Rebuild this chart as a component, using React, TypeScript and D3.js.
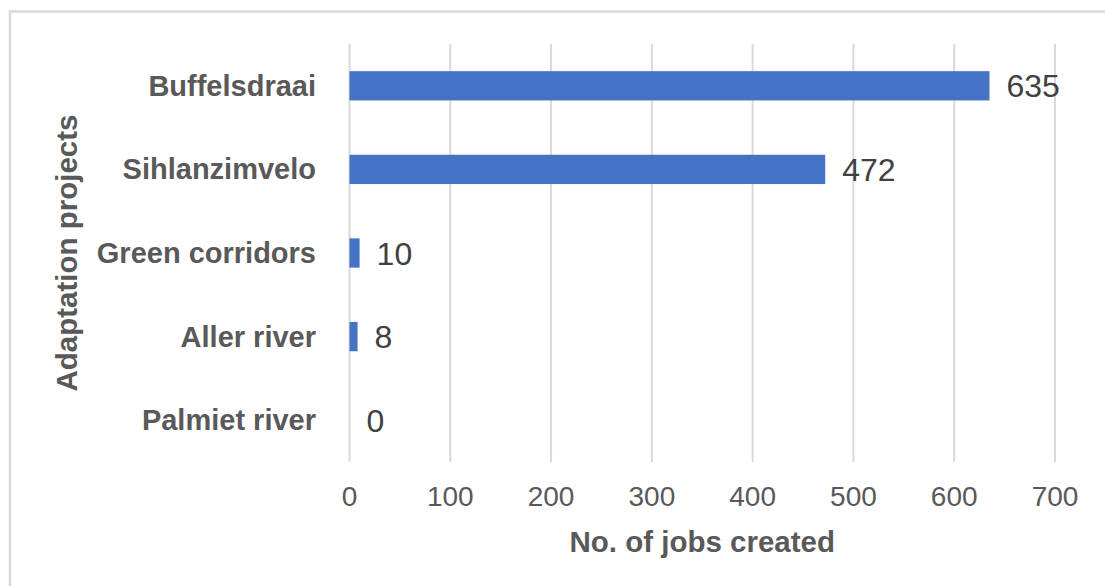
import React from "react";
import * as d3 from "d3";

const categories = ["Buffelsdraai", "Sihlanzimvelo", "Green corridors", "Aller river", "Palmiet river"];
const jobs = [635, 472, 10, 8, 0];
const xTicks = [0, 100, 200, 300, 400, 500, 600, 700];
const xTitle = "No. of jobs created";
const yTitle = "Adaptation projects";

const W = 1105;
const H = 586;
const plotLeft = 349.5;
const plotRight = 1055;
const plotTop = 44;
const plotBottom = 462;

export default function App() {
  const x = d3.scaleLinear().domain([0, 700]).range([plotLeft, plotRight]);
  const y = d3
    .scaleBand<string>()
    .domain(categories)
    .range([plotTop, plotBottom])
    .paddingInner(0.65)
    .paddingOuter(0.325);

  const labelColor = "#595959";
  const font = "'Liberation Sans', Arial, sans-serif";

  return (
    <svg
      width={W}
      height={H}
      style={{ position: "absolute", left: 0, top: 0, background: "#fff" }}
      fontFamily={font}
    >
      <rect x={0} y={0} width={W} height={H} fill="#fff" />
      <rect x={10} y={11.5} width={W + 20} height={H + 20} fill="none" stroke="#d9d9d9" strokeWidth={2.5} />
      {xTicks.map((t) => (
        <line
          key={t}
          x1={x(t)}
          x2={x(t)}
          y1={plotTop}
          y2={plotBottom}
          stroke="#d9d9d9"
          strokeWidth={2}
        />
      ))}
      {categories.map((c, i) => (
        <g key={c}>
          <rect
            x={x(0)}
            y={y(c)!}
            width={Math.max(0, x(jobs[i]) - x(0))}
            height={y.bandwidth()}
            fill="#4472c4"
          />
          <text
            x={316}
            y={y(c)! + y.bandwidth() / 2}
            textAnchor="end"
            dominantBaseline="central"
            fontWeight="bold"
            fontSize={29}
            fill={labelColor}
          >
            {c}
          </text>
          <text
            x={x(jobs[i]) + 17}
            y={y(c)! + y.bandwidth() / 2 + 0.5}
            dominantBaseline="central"
            fontSize={32}
            fill="#404040"
          >
            {jobs[i]}
          </text>
        </g>
      ))}
      {xTicks.map((t) => (
        <text
          key={"l" + t}
          x={x(t)}
          y={496}
          textAnchor="middle"
          dominantBaseline="central"
          fontSize={28}
          fill={labelColor}
        >
          {t}
        </text>
      ))}
      <text
        x={(x(0) + x(700)) / 2}
        y={541}
        textAnchor="middle"
        dominantBaseline="central"
        fontWeight="bold"
        fontSize={29.5}
        fill={labelColor}
      >
        {xTitle}
      </text>
      <text
        transform={`translate(66, ${(113 + 393) / 2}) rotate(-90)`}
        textAnchor="middle"
        dominantBaseline="central"
        fontWeight="bold"
        fontSize={29.5}
        fill={labelColor}
      >
        {yTitle}
      </text>
    </svg>
  );
}
